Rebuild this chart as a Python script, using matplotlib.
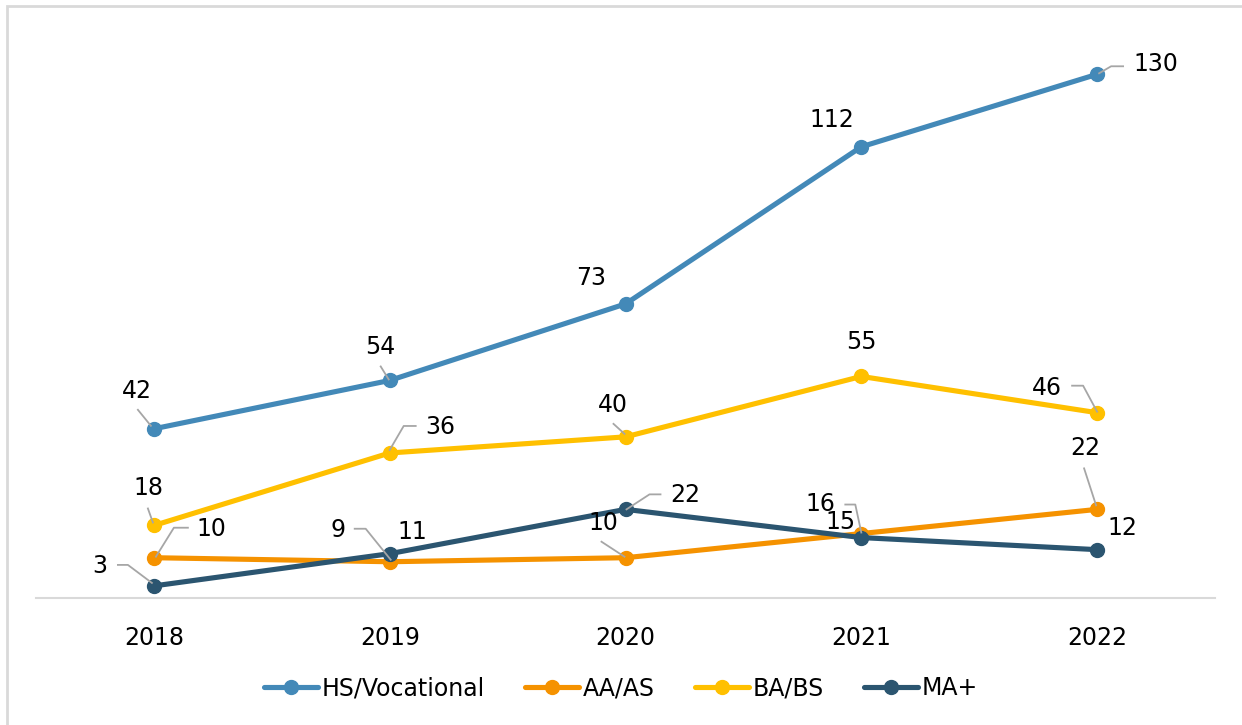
import matplotlib
matplotlib.use("Agg")
from matplotlib import pyplot as plt
from matplotlib.lines import Line2D
from matplotlib.patches import Rectangle

years = ["2018", "2019", "2020", "2021", "2022"]
hs_vocational = [42, 54, 73, 112, 130]
aa_as = [10, 9, 10, 16, 22]
ba_bs = [18, 36, 40, 55, 46]
ma_plus = [3, 11, 22, 15, 12]

series_names = ["HS/Vocational", "AA/AS", "BA/BS", "MA+"]
series_values = [hs_vocational, aa_as, ba_bs, ma_plus]
colors = ["#4389B8", "#F59200", "#FFC000", "#2B5570"]

# label offsets in pixels (dx right, dy up) from each point
label_offsets = [
    [(-17, 38), (-9, 33), (-34, 26), (-29, 27), (59, 10)],
    [(57, 29), (-52, 32), (-22, 35), (-41, 30), (-12, 61)],
    [(-5, 37), (51, 26), (-13, 32), (0, 34), (-50, 25)],
    [(-54, 20), (23, 22), (60, 14), (-21, 16), (25, 22)],
]
# leader lines, vertices in pixels relative to the point
leaders = [
    [[(-16, 19), (-3, 3)], [(-9, 14), (-1, 1)], None, None,
     [(26, 8), (14, 8), (2, 1)]],
    [[(34, 30), (20, 30), (2, 1)], [(-35, 33), (-24, 33), (1, 2)],
     [(-24, 16), (-1, 1)], [(-16, 29), (-6, 29), (0, 1)],
     [(-13, 41), (-1, 4)]],
    [[(-6, 17), (-1, 3)], [(26, 27), (14, 27), (0, 3)],
     [(-12, 13), (-1, 3)], None, [(-25, 27), (-14, 27), (0, 1)]],
    [[(-36, 21), (-26, 21), (-2, 3)], None, [(35, 15), (24, 15), (1, 0)],
     None, None],
]

plt.rcParams["font.family"] = ["DejaVu Sans"]

fig = plt.figure(figsize=(12.42, 7.25), dpi=100)
ax = fig.add_axes([36 / 1242, 1 - 598 / 725, 1179 / 1242, 564 / 725])

x = list(range(len(years)))
for name, vals, c in zip(series_names, series_values, colors):
    ax.plot(x, vals, "-o", color=c, lw=3.7, markersize=10, label=name,
            solid_capstyle="round", zorder=3)

ax.set_xlim(-0.5, 4.5)
ax.set_ylim(0, 140)
ax.set_yticks([])
ax.set_xticks(x)
ax.set_xticklabels(years, fontsize=17)
ax.tick_params(axis="x", length=0, pad=20)
for s in ["top", "right", "left"]:
    ax.spines[s].set_visible(False)
ax.spines["bottom"].set_color("#d9d9d9")
ax.spines["bottom"].set_linewidth(1.5)

fig.canvas.draw()
for si, vals in enumerate(series_values):
    for i, v in enumerate(vals):
        px, py = ax.transData.transform((i, v))
        dx, dy = label_offsets[si][i]
        fig.text((px + dx) / 1242, (py + dy) / 725, str(v), fontsize=17,
                 ha="center", va="center", color="black")
        ld = leaders[si][i]
        if ld:
            xs = [(px + a) / 1242 for a, b in ld]
            ys = [(py + b) / 725 for a, b in ld]
            fig.add_artist(Line2D(xs, ys, color="#a6a6a6", lw=1.3,
                                  transform=fig.transFigure, zorder=4))

leg = fig.legend(loc="center", bbox_to_anchor=(0.5, 1 - 688 / 725), ncol=4,
                 frameon=False, fontsize=17, handlelength=2.3,
                 columnspacing=1.7, handletextpad=0.15)

fig.add_artist(Rectangle((7 / 1242, -0.1), 1.2, (725 - 6) / 725 + 0.1,
                         transform=fig.transFigure, fill=False,
                         edgecolor="#d9d9d9", lw=2))

fig.savefig("out.png", dpi=100)
